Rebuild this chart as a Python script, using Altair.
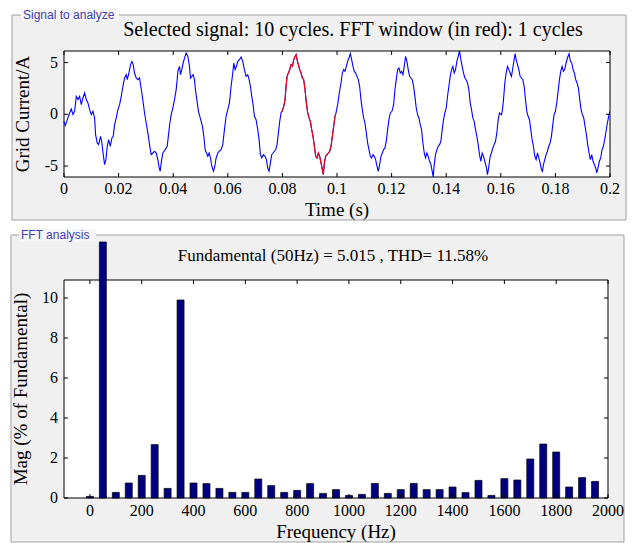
import altair as alt
import pandas as pd

SERIF = "Liberation Serif"
SANS = "Liberation Sans"

# ---------------- data ----------------
# Grid current record: sample times (ms) and current (A)
time_ms = [
    0.00, 0.48, 1.21, 2.06, 2.67, 3.28, 3.89, 4.50, 5.11, 5.72,
    6.33, 6.94, 7.55, 8.16, 8.77, 9.38, 9.99, 10.60, 11.21, 11.57,
    12.18, 12.67, 13.40, 13.89, 14.38, 14.87, 15.36, 15.84, 16.33, 16.94,
    17.55, 18.04, 18.53, 19.14, 19.75, 20.36, 20.97, 21.58, 22.19, 22.79,
    23.16, 23.77, 24.38, 24.87, 25.36, 25.84, 26.45, 27.06, 27.67, 28.04,
    28.53, 29.02, 29.50, 30.11, 30.72, 31.33, 31.94, 32.55, 33.16, 33.77,
    34.38, 34.87, 35.24, 35.60, 36.21, 37.07, 37.80, 38.29, 38.78, 39.27,
    39.87, 40.48, 41.09, 41.46, 41.70, 42.31, 42.67, 43.16, 43.65, 44.14,
    44.75, 45.36, 45.97, 46.33, 46.82, 47.31, 47.80, 48.16, 48.65, 49.26,
    49.75, 50.24, 50.72, 51.21, 51.70, 52.19, 52.68, 53.16, 53.65, 54.14,
    54.75, 55.24, 55.73, 56.34, 56.94, 57.55, 58.16, 58.77, 59.38, 59.99,
    60.60, 61.21, 61.82, 62.19, 62.68, 63.17, 63.65, 64.26, 64.87, 65.48,
    66.09, 66.70, 67.31, 67.80, 68.29, 68.78, 69.26, 69.75, 70.36, 70.97,
    71.46, 71.95, 72.43, 73.04, 73.65, 74.14, 74.63, 75.12, 75.61, 76.09,
    76.58, 77.07, 77.56, 78.05, 78.53, 79.02, 79.51,
    79.88, 80.49, 80.97, 81.34, 81.71, 82.19, 82.68, 83.17, 83.66, 84.14,
    84.63, 85.00, 85.36, 85.85, 86.34, 86.83, 87.32, 87.80, 88.29, 88.78,
    89.27, 89.75, 90.24, 90.73, 91.22, 91.71, 92.19, 92.68, 93.17, 93.66,
    94.15, 94.63, 95.00, 95.37, 95.85, 96.34, 96.83, 97.32, 97.80, 98.29,
    98.78, 99.27, 99.63, 100.24, 100.85, 101.46, 101.95, 102.44, 102.93, 103.42,
    103.90, 104.39, 104.88, 105.37, 105.85, 106.34, 106.83, 107.32, 107.81, 108.29,
    108.78, 109.27, 109.76, 110.25, 110.73, 111.22, 111.71, 112.20, 112.69, 113.17,
    113.66, 114.15, 114.64, 115.12, 115.61, 116.10, 116.59, 117.08, 117.56, 118.05,
    118.54, 119.03, 119.52,
    120.13, 120.74, 121.22, 121.71, 122.20, 122.69, 123.18, 123.66, 124.15, 124.64,
    125.13, 125.61, 126.10, 126.59, 127.08, 127.57, 128.05, 128.54, 129.03, 129.52,
    130.01, 130.49, 130.98, 131.47, 131.96, 132.44, 132.93, 133.42, 133.91, 134.40,
    134.88, 135.25, 135.62, 136.10, 136.59, 137.08, 137.57, 138.05, 138.54, 139.03,
    139.52, 140.01, 140.49, 140.98, 141.47, 141.96, 142.45, 142.93, 143.42, 143.91,
    144.40, 144.89, 145.37, 145.86, 146.35, 146.84, 147.32, 147.81, 148.30, 148.79,
    149.28, 149.76, 150.25, 150.74, 151.23, 151.72, 152.20, 152.69, 153.18, 153.67,
    154.15, 154.64, 155.13, 155.62, 156.11, 156.59, 157.08, 157.57, 158.06, 158.55,
    159.03, 159.52,
    160.25, 160.62, 160.99, 161.47, 161.96, 162.45, 162.94, 163.42, 163.91, 164.40,
    164.89, 165.25, 165.62, 166.11, 166.60, 167.08, 167.57, 168.06, 168.55, 169.04,
    169.52, 170.01, 170.50, 170.99, 171.47, 171.96, 172.45, 172.94, 173.43, 173.91,
    174.40, 174.89, 175.26, 175.62, 176.11, 176.60, 177.08, 177.57, 178.06, 178.55,
    179.04, 179.52, 180.01, 180.50, 180.99, 181.48, 181.96, 182.45, 182.94, 183.43,
    183.91, 184.40, 185.01, 185.50, 185.99, 186.48, 186.96, 187.45, 187.94, 188.43,
    188.92, 189.40, 189.89, 190.38, 190.87, 191.36, 191.84, 192.33, 192.82, 193.31,
    193.79, 194.28, 194.77, 195.14, 195.62, 196.11, 196.60, 197.09, 197.58, 198.06,
    198.55, 199.04, 199.53, 199.89,
]

current_a = [
    -0.68, -1.09, -0.52, 0.13, 0.52, -0.03, 0.29, 1.74, 1.42, 1.74,
    0.93, 1.58, 2.06, 1.42, 1.10, 0.45, -0.03, 0.29, -0.35, -1.96,
    -2.77, -2.93, -2.13, -2.77, -3.90, -4.86, -4.38, -3.09, -2.45, -3.09,
    -2.29, -2.13, -1.00, -0.35, 0.45, 0.93, 1.74, 2.71, 3.51, 3.83,
    3.35, 3.99, 4.80, 5.12, 4.80, 3.99, 3.51, 3.35, 3.51, 2.87,
    2.06, 1.10, 0.13, -0.84, -1.80, -2.93, -3.90, -3.74, -3.57, -3.74,
    -4.38, -5.19, -5.51, -4.70, -3.74, -3.41, -3.09, -1.96, -0.84, -0.03,
    0.61, 1.42, 2.38, 3.35, 4.15, 4.64, 3.83, 4.32, 4.96, 5.44,
    5.93, 5.60, 4.64, 3.51, 3.67, 3.83, 3.35, 2.38, 1.42, 0.29,
    -0.19, -0.68, -1.16, -2.13, -3.41, -3.74, -4.06, -3.74, -4.22, -5.02,
    -5.51, -5.02, -4.22, -3.74, -3.57, -3.41, -2.93, -1.48, -0.19, 0.45,
    1.10, 2.71, 3.99, 4.96, 4.32, 4.64, 5.12, 5.28, 5.54, 5.12,
    4.32, 3.67, 3.83, 3.35, 2.71, 1.74, 0.93, -0.19, -0.52, -1.48,
    -2.45, -3.90, -4.22, -3.90, -4.06, -4.38, -5.19, -5.51, -4.70, -3.90,
    -3.74, -3.57, -3.41, -2.93, -1.80, -0.68, 0.13,
    0.29, 0.77, 1.42, 2.71, 3.67, 3.99, 4.32, 4.80, 4.64, 5.28,
    5.60, 5.77, 5.28, 4.80, 4.32, 3.99, 3.51, 3.35, 2.38, 1.10,
    0.13, -0.35, -0.68, -1.48, -2.13, -3.09, -4.06, -4.22, -3.74, -4.06,
    -4.70, -5.35, -5.83, -4.70, -4.06, -3.90, -3.74, -3.57, -3.09, -2.13,
    -1.16, -0.19, 0.13, 0.93, 2.06, 3.03, 3.99, 4.32, 4.15, 4.64,
    5.12, 5.44, 5.86, 5.28, 4.64, 4.15, 3.99, 3.67, 3.35, 2.71,
    1.42, 0.45, -0.35, -0.84, -1.80, -2.77, -3.41, -4.06, -4.22, -3.90,
    -4.06, -4.38, -5.02, -5.51, -4.86, -4.06, -3.74, -3.41, -3.25, -2.61,
    -1.48, -0.52, 0.13,
    0.29, 0.93, 2.38, 3.35, 4.32, 4.48, 3.99, 4.15, 3.83, 4.64,
    5.60, 5.12, 4.32, 3.67, 3.51, 3.35, 2.71, 1.74, 0.61, -0.03,
    -0.35, -1.00, -1.48, -2.77, -3.74, -4.22, -3.74, -4.06, -4.54, -4.86,
    -5.51, -6.06, -4.86, -3.90, -3.41, -3.09, -2.93, -2.61, -1.48, -0.52,
    0.13, 0.61, 1.74, 2.71, 3.67, 4.32, 4.64, 3.99, 4.32, 5.12,
    5.60, 6.12, 5.28, 4.64, 3.99, 3.51, 3.35, 3.03, 2.38, 1.10,
    0.45, -0.35, -0.68, -1.48, -2.13, -2.93, -3.90, -4.54, -3.74, -4.06,
    -4.54, -5.02, -5.83, -5.02, -4.06, -3.74, -3.25, -2.93, -2.61, -1.80,
    -0.52, 0.13,
    -0.03, 0.45, 1.42, 3.03, 3.99, 4.64, 4.32, 3.99, 3.67, 4.48,
    5.28, 5.86, 5.28, 4.80, 4.32, 3.67, 3.51, 3.35, 2.71, 1.42,
    0.29, -0.19, -0.52, -1.48, -2.45, -3.09, -4.06, -4.38, -3.74, -4.22,
    -4.70, -5.35, -5.51, -4.86, -4.38, -3.90, -3.57, -3.09, -2.77, -2.13,
    -1.00, -0.03, 0.29, 1.10, 2.22, 3.35, 4.15, 4.64, 4.15, 4.32,
    4.96, 5.44, 5.86, 5.12, 4.96, 4.32, 3.99, 3.35, 3.03, 2.54,
    1.42, 0.45, -0.03, -0.35, -1.16, -1.96, -2.93, -3.74, -4.38, -3.90,
    -4.54, -4.86, -5.19, -5.67, -5.19, -4.54, -4.22, -3.41, -3.09, -2.45,
    -1.64, -0.84, -0.19, 0.29,
]

# FFT window (one cycle, drawn in red)
window_start_ms = 79.5
window_end_ms = 100.0

# Harmonic spectrum: frequency (Hz) and magnitude (% of fundamental)
freq_hz = [0, 50, 100, 150, 200, 250, 300, 350, 400, 450,
           500, 550, 600, 650, 700, 750, 800, 850, 900, 950,
           1000, 1050, 1100, 1150, 1200, 1250, 1300, 1350, 1400, 1450,
           1500, 1550, 1600, 1650, 1700, 1750, 1800, 1850, 1900, 1950]
mag_pct = [0.08, 100.0, 0.28, 0.75, 1.13, 2.67, 0.48, 9.90, 0.75, 0.72,
           0.48, 0.28, 0.28, 0.95, 0.62, 0.28, 0.38, 0.72, 0.23, 0.42,
           0.13, 0.18, 0.73, 0.23, 0.42, 0.73, 0.42, 0.42, 0.55, 0.27,
           0.88, 0.13, 0.97, 0.90, 1.95, 2.70, 2.30, 0.55, 1.02, 0.83]

# Axis ticks and their labels
time_ticks = [0, 0.02, 0.04, 0.06, 0.08, 0.1, 0.12, 0.14, 0.16, 0.18, 0.2]
time_tick_labels = ["0", "0.02", "0.04", "0.06", "0.08", "0.1",
                    "0.12", "0.14", "0.16", "0.18", "0.2"]
current_ticks = [-5, 0, 5]
current_tick_labels = ["-5", "0", "5"]
freq_ticks = [0, 200, 400, 600, 800, 1000, 1200, 1400, 1600, 1800, 2000]
freq_tick_labels = ["0", "200", "400", "600", "800", "1000",
                    "1200", "1400", "1600", "1800", "2000"]
mag_ticks = [0, 2, 4, 6, 8, 10]
mag_tick_labels = ["0", "2", "4", "6", "8", "10"]

assert len(time_ms) == len(current_a)
assert len(freq_hz) == len(mag_pct)

signal = pd.DataFrame({"t": [v / 1000.0 for v in time_ms], "i": current_a})
spectrum = pd.DataFrame({"f": freq_hz, "mag": mag_pct})

# ---------------- helpers ----------------
W1, H1 = 546, 126
W2, H2 = 544, 218
one = alt.Data(values=[{}])
PANEL_BG = "#f0f0f0"
PANEL_EDGE = "#a0a0a0"
GROUP_BLUE = "#4040b0"
TICK_FONT = 16
AXIS_TITLE_FONT = 19


def box(x, x2, y, y2, **kw):
    return alt.Chart(one).mark_rect(**kw).encode(
        x=alt.value(x), x2=alt.value(x2), y=alt.value(y), y2=alt.value(y2)
    )


def text_at(x, y, txt, **kw):
    return alt.Chart(one).mark_text(text=txt, **kw).encode(
        x=alt.value(x), y=alt.value(y)
    )


def inward_ticks(values, scale, channel, w, h, n=4):
    df = pd.DataFrame({"v": values})
    base = alt.Chart(df).mark_rule(color="black", strokeWidth=1)
    if channel == "x":
        enc = alt.X("v:Q", scale=scale, axis=None)
        return (base.encode(x=enc, y=alt.value(h), y2=alt.value(h - n))
                + base.encode(x=enc, y=alt.value(0), y2=alt.value(n)))
    enc = alt.Y("v:Q", scale=scale, axis=None)
    return (base.encode(y=enc, x=alt.value(0), x2=alt.value(n))
            + base.encode(y=enc, x=alt.value(w), x2=alt.value(w - n)))


def tick_labels(values, labels, scale, channel, offset):
    df = pd.DataFrame({"v": values, "lab": labels})
    if channel == "x":
        return alt.Chart(df).mark_text(
            font=SERIF, fontSize=TICK_FONT, color="black",
            align="center", baseline="middle",
        ).encode(x=alt.X("v:Q", scale=scale, axis=None),
                 y=alt.value(offset), text="lab:N")
    return alt.Chart(df).mark_text(
        font=SERIF, fontSize=TICK_FONT, color="black",
        align="right", baseline="middle",
    ).encode(y=alt.Y("v:Q", scale=scale, axis=None),
             x=alt.value(offset), text="lab:N")


def x_title(txt, w, y):
    return text_at(w / 2, y, txt, font=SERIF, fontSize=AXIS_TITLE_FONT,
                   color="black", align="center", baseline="middle")


def y_title(txt, h, x):
    return text_at(x, h / 2, txt, font=SERIF, fontSize=AXIS_TITLE_FONT,
                   color="black", align="center", baseline="middle", angle=270)


# ---------------- signal panel ----------------
xs = alt.Scale(domain=[0, 0.2], nice=False, zero=False, padding=0)
ys = alt.Scale(domain=[-6.06, 6.12], nice=False, zero=False, padding=0)

sig_panel = box(-52, 562, -36, 169, fill=PANEL_BG, stroke=PANEL_EDGE, strokeWidth=1)
sig_label_bg = box(-43, 55, -42, -30, fill="#f6f6f6")
sig_label = text_at(-41, -36, "Signal to analyze", font=SANS, fontSize=12,
                    color=GROUP_BLUE, align="left", baseline="middle")
sig_plot_bg = box(0, W1, 0, H1, fill="white", stroke="black", strokeWidth=1)
sig_title = text_at(W1 / 2 + 16, -21,
                    "Selected signal: 10 cycles. FFT window (in red): 1 cycles",
                    font=SERIF, fontSize=20, color="black",
                    align="center", baseline="middle")

blue = alt.Chart(signal).mark_line(color="#0000ff", strokeWidth=1.1).encode(
    x=alt.X("t:Q", scale=xs, axis=None),
    y=alt.Y("i:Q", scale=ys, axis=None),
)
red = alt.Chart(signal).transform_filter(
    f"datum.t >= {window_start_ms / 1000.0} && datum.t <= {window_end_ms / 1000.0}"
).mark_line(color="#ff0000", strokeWidth=1.1).encode(
    x=alt.X("t:Q", scale=xs, axis=None),
    y=alt.Y("i:Q", scale=ys, axis=None),
)

top = alt.layer(
    sig_panel, sig_label_bg, sig_label, sig_plot_bg, sig_title,
    blue, red,
    inward_ticks(time_ticks, xs, "x", W1, H1),
    inward_ticks(current_ticks, ys, "y", W1, H1),
    tick_labels(time_ticks, time_tick_labels, xs, "x", H1 + 12),
    tick_labels(current_ticks, current_tick_labels, ys, "y", -6),
    x_title("Time (s)", W1, H1 + 33),
    y_title("Grid Current/A", H1, -41),
).properties(width=W1, height=H1)

# ---------------- FFT panel ----------------
fx = alt.Scale(domain=[-100, 2000], nice=False, zero=False, padding=0)
fy = alt.Scale(domain=[0, 10.9], nice=False, padding=0)

fft_panel = box(-53, 560, -45, 262, fill=PANEL_BG, stroke=PANEL_EDGE, strokeWidth=1)
fft_label_bg = box(-45, 32, -51, -39, fill="#f6f6f6")
fft_label = text_at(-43, -45, "FFT analysis", font=SANS, fontSize=12,
                    color=GROUP_BLUE, align="left", baseline="middle")
fft_plot_bg = box(0, W2, 0, H2, fill="white", stroke="black", strokeWidth=1)
fft_title = text_at(W2 / 2 - 3, -24,
                    "Fundamental (50Hz) = 5.015 , THD= 11.58%",
                    font=SERIF, fontSize=17, color="black",
                    align="center", baseline="middle")

# the fundamental bar (100 %) runs off the top of the axes, up to the panel edge
bars = alt.Chart(spectrum).transform_calculate(
    shown="min(datum.mag, 12.8)"
).mark_bar(size=7, color="#000080", stroke="black", strokeWidth=0.7).encode(
    x=alt.X("f:Q", scale=fx, axis=None),
    y=alt.Y("shown:Q", scale=fy, axis=None),
)

bottom = alt.layer(
    fft_panel, fft_label_bg, fft_label, fft_plot_bg, fft_title,
    bars,
    inward_ticks(freq_ticks, fx, "x", W2, H2),
    inward_ticks(mag_ticks, fy, "y", W2, H2),
    tick_labels(freq_ticks, freq_tick_labels, fx, "x", H2 + 13),
    tick_labels(mag_ticks, mag_tick_labels, fy, "y", -6),
    x_title("Frequency (Hz)", W2, H2 + 34),
    y_title("Mag (% of Fundamental)", H2, -43),
).properties(width=W2, height=H2)

chart = alt.vconcat(top, bottom, spacing=8).properties(
    background="white",
    padding={"left": 10, "top": 9, "right": 0, "bottom": 0},
).configure_view(stroke=None)

chart.save("out.html", embed_options={"renderer": "svg", "actions": False})
